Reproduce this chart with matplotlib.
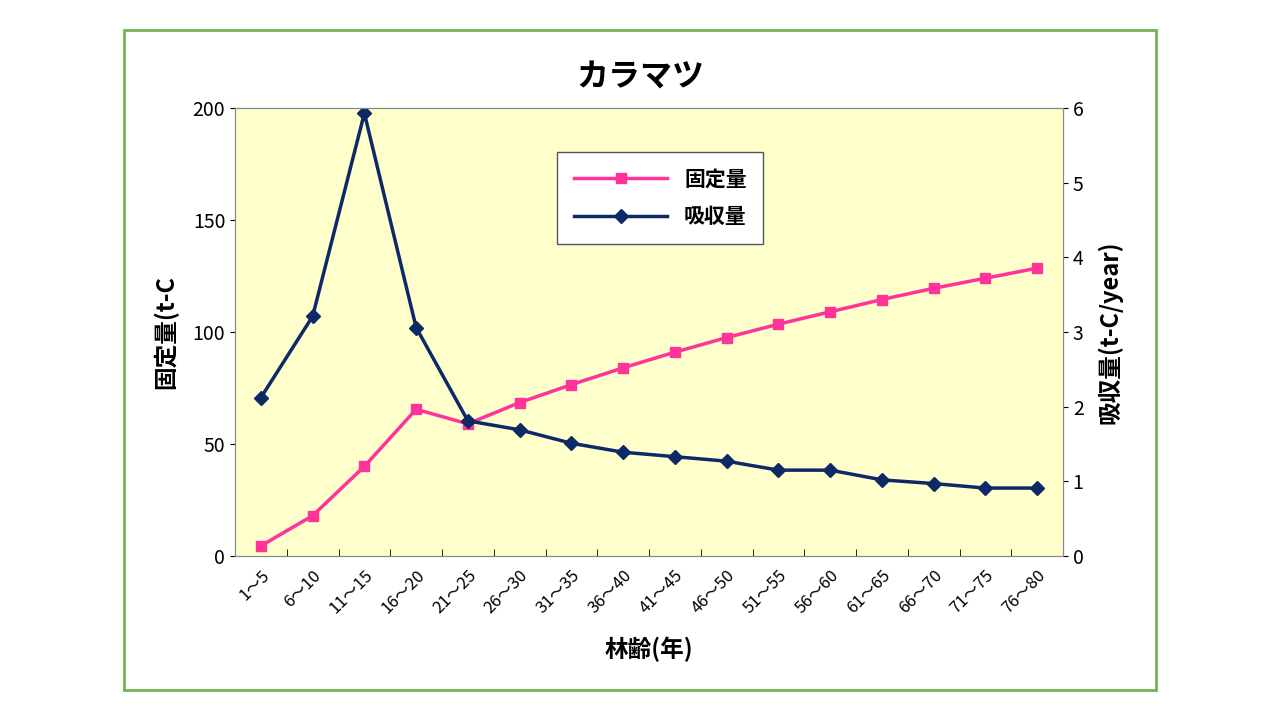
import matplotlib
matplotlib.use("Agg")
import matplotlib.pyplot as plt
from matplotlib.patches import Rectangle

plt.rcParams["font.family"] = ["Noto Sans CJK JP", "DejaVu Sans"]

categories = ["1～5","6～10","11～15","16～20","21～25","26～30","31～35","36～40",
              "41～45","46～50","51～55","56～60","61～65","66～70","71～75","76～80"]
fixed = [4.5, 18, 40, 65.5, 59, 68.5, 76.5, 84, 91, 97.5, 103.5, 109, 114.5, 119.5, 124, 128.5]
absorbed = [2.12, 3.21, 5.93, 3.06, 1.81, 1.69, 1.51, 1.39, 1.33, 1.27, 1.15, 1.15, 1.02, 0.97, 0.91, 0.91]

fig = plt.figure(figsize=(12.8, 7.2), dpi=100)
fig.patches.append(Rectangle((124/1280, 1-690/720), 1032/1280, 660/720, transform=fig.transFigure,
                             fill=False, edgecolor="#77b255", linewidth=2))
ax = fig.add_axes([235/1280, 1-556/720, 828/1280, 448/720])
ax.set_facecolor("#ffffcc")
x = list(range(len(categories)))
l1, = ax.plot(x, fixed, color="#ff3399", marker="s", markersize=7, linewidth=2.5, label="固定量")
ax.set_ylim(0, 200)
ax.set_xlim(-0.5, len(categories) - 0.5)
ax.set_yticks([0, 50, 100, 150, 200])
ax.set_xticks(x)
ax.set_xticklabels(categories, rotation=45, ha="right", rotation_mode="anchor", fontsize=12)
ax.set_xticks([i + 0.5 for i in x[:-1]], minor=True)
ax.tick_params(axis="x", which="major", length=0, pad=8)
ax.tick_params(axis="x", which="minor", length=5, direction="in")
ax.tick_params(axis="y", labelsize=14)
ax.set_ylabel("固定量(t-C", fontsize=17, fontweight="bold", labelpad=10)
ax.set_xlabel("林齢(年)", fontsize=17, fontweight="bold", labelpad=14)
ax2 = ax.twinx()
l2, = ax2.plot(x, absorbed, color="#0d2a66", marker="D", markersize=7, linewidth=2.5, label="吸収量")
ax2.set_ylim(0, 6)
ax2.set_yticks(range(7))
ax2.tick_params(axis="y", labelsize=14)
ax2.set_ylabel("吸収量(t-C/year)", fontsize=17, fontweight="bold", labelpad=10)
for a in (ax, ax2):
    for s in a.spines.values():
        s.set_color("#888888")
leg = ax2.legend(handles=[l1, l2], loc="upper left", bbox_to_anchor=(322/828, 1-44/448),
                 fontsize=15, frameon=True, fancybox=False, edgecolor="#555555", framealpha=1,
                 borderpad=0.8, labelspacing=0.8, handlelength=4.5, borderaxespad=0)
leg.get_frame().set_facecolor("white")
for t in leg.get_texts():
    t.set_fontweight("bold")
fig.text(640/1280, 1-78/720, "カラマツ", ha="center", va="center", fontsize=23, fontweight="bold")
fig.savefig("out.png")
